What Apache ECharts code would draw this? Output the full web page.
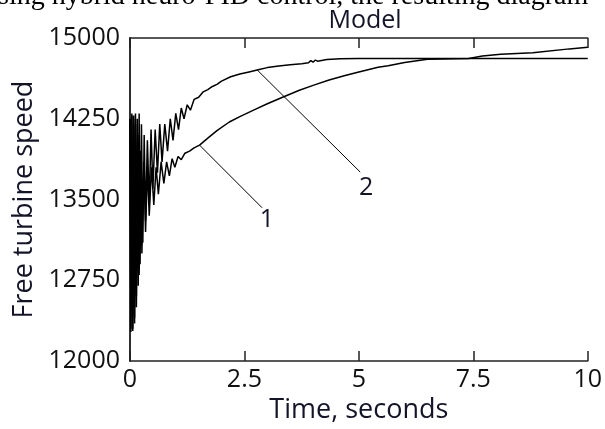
<!DOCTYPE html>
<html>
<head>
<meta charset="utf-8">
<script src="https://cdn.jsdelivr.net/npm/echarts@6/dist/echarts.min.js"></script>
<style>
html,body{margin:0;padding:0;background:#fff;}
#chart{width:605px;height:429px;}
</style>
</head>
<body>
<div id="chart"></div>
<script>
// ---- data ----
const xTicks = [0, 2.5, 5, 7.5, 10];
const yTicks = [12000, 12750, 13500, 14250, 15000];

// curve "2" (fast response) : [time, speed]
const curve2 = [
  [0,14250],[0.02,12300],[0.04,14300],[0.06,12280],[0.08,14280],[0.10,12350],[0.12,14300],
  [0.14,12500],[0.16,14250],[0.18,12700],[0.20,14300],[0.22,12900],[0.25,14200],[0.28,13100],
  [0.31,14100],[0.34,13300],[0.38,14050],[0.42,13450],[0.46,14150],[0.50,13600],[0.55,14150],
  [0.60,13750],[0.65,14200],[0.70,13850],[0.76,14200],[0.82,13950],[0.88,14250],[0.94,14050],
  [1.0,14300],[1.06,14150],[1.12,14350],[1.18,14250],[1.25,14380],[1.32,14330],[1.4,14430],
  [1.5,14450],[1.6,14500],[1.7,14520],[1.8,14550],[1.9,14570],[2.0,14600],[2.2,14640],
  [2.4,14665],[2.6,14685],[2.8,14705],[3.0,14725],[3.25,14740],[3.5,14752],[3.75,14762],
  [3.9,14770],[3.95,14790],[4.0,14775],[4.05,14795],[4.1,14785],[4.3,14800],[4.6,14808],
  [5,14810],[6,14810],[7,14810],[8,14810],[9,14810],[10,14810]
];

// curve "1" (slow response) : [time, speed]
const curve1 = [
  [0,14250],[0.02,12270],[0.04,14280],[0.06,12300],[0.08,14250],[0.10,12400],[0.12,14200],
  [0.14,12600],[0.17,14100],[0.20,12800],[0.23,13950],[0.26,13000],[0.30,13850],[0.34,13200],
  [0.38,13800],[0.42,13350],[0.47,13800],[0.52,13450],[0.57,13800],[0.62,13550],[0.68,13850],
  [0.74,13650],[0.80,13850],[0.86,13720],[0.92,13880],[0.98,13800],[1.05,13900],[1.12,13870],
  [1.2,13930],[1.3,13950],[1.4,13980],[1.52,14005],[1.7,14070],[1.9,14140],[2.17,14220],
  [2.4,14270],[2.7,14330],[3.0,14390],[3.36,14454],[3.7,14515],[4.0,14560],[4.35,14610],
  [4.7,14651],[5.0,14685],[5.42,14728],[5.64,14743],[6.0,14773],[6.5,14803],[7.4,14810],
  [7.7,14833],[8.1,14848],[8.8,14863],[9.6,14899],[10,14913]
];

// leader lines for the curve labels: [start on curve, end near label]
const leader1 = [[1.52,14005],[2.885,13424]];
const leader2 = [[2.78,14703],[5.03,13755]];
const curveLabels = [
  {name:'1', value:[2.99,13307]},
  {name:'2', value:[5.16,13612]}
];

const titleText = 'Model';
const xName = 'Time, seconds';
const yName = 'Free turbine speed';
const pageText = 'sing hybrid neuro-PID control, the resulting diagram';

const FONT = 'Open Sans';
const chart = echarts.init(document.getElementById('chart'), null, {renderer:'canvas'});

const axisLine = {show:true, lineStyle:{color:'#222', width:1.5}};
chart.setOption({
  animation:false,
  backgroundColor:'#fff',
  title:{
    text:titleText, left:360, top:3, textAlign:'center',
    textStyle:{fontFamily:FONT, fontSize:25, fontWeight:'normal', color:'#141428'}
  },
  graphic:[{
    type:'text', x:-2, y:-17, z:100,
    style:{text:pageText, fontFamily:'Liberation Serif', fontSize:28,
      verticalAlign:'top', fill:'#000'}
  }],
  grid:{left:130, right:14, top:38, bottom:56},
  xAxis:[{
    type:'value', min:0, max:10, interval:2.5,
    name:xName, nameLocation:'middle', nameGap:22,
    nameTextStyle:{fontFamily:FONT, fontSize:27, color:'#141428'},
    axisLine:axisLine,
    axisTick:{show:true, inside:true, length:10, lineStyle:{color:'#222', width:1.5}},
    axisLabel:{fontFamily:FONT, fontSize:25, color:'#111', margin:6,
      formatter:v => xTicks.includes(v) ? String(v) : ''},
    splitLine:{show:false}
  },{
    type:'value', min:0, max:10, interval:2.5, position:'top',
    axisLine:axisLine,
    axisTick:{show:true, inside:true, length:10, lineStyle:{color:'#222', width:1.5}},
    axisLabel:{show:false}, splitLine:{show:false}
  }],
  yAxis:[{
    type:'value', min:12000, max:15000, interval:750,
    name:yName, nameLocation:'middle', nameGap:92, nameRotate:90,
    nameTextStyle:{fontFamily:FONT, fontSize:27, color:'#141428'},
    axisLine:axisLine, axisTick:{show:false},
    axisLabel:{fontFamily:FONT, fontSize:25, color:'#111', margin:10,
      formatter:v => yTicks.includes(v) ? String(v) : ''},
    splitLine:{show:false}
  },{
    type:'value', min:12000, max:15000, interval:750, position:'right',
    axisLine:axisLine, axisTick:{show:false}, axisLabel:{show:false}, splitLine:{show:false}
  }],
  series:[
    {type:'line', data:curve2, showSymbol:false, symbol:'none',
     lineStyle:{color:'#000', width:1.5}, z:3},
    {type:'line', data:curve1, showSymbol:false, symbol:'none',
     lineStyle:{color:'#000', width:1.5}, z:3},
    {type:'line', data:leader1, showSymbol:false, symbol:'none',
     lineStyle:{color:'#000', width:1}, z:2},
    {type:'line', data:leader2, showSymbol:false, symbol:'none',
     lineStyle:{color:'#000', width:1}, z:2},
    {type:'scatter', data:curveLabels, symbolSize:0, itemStyle:{opacity:1},
     label:{show:true, position:'inside', formatter:p => p.name,
       fontFamily:FONT, fontSize:25, color:'#141428'}}
  ]
});
</script>
</body>
</html>
